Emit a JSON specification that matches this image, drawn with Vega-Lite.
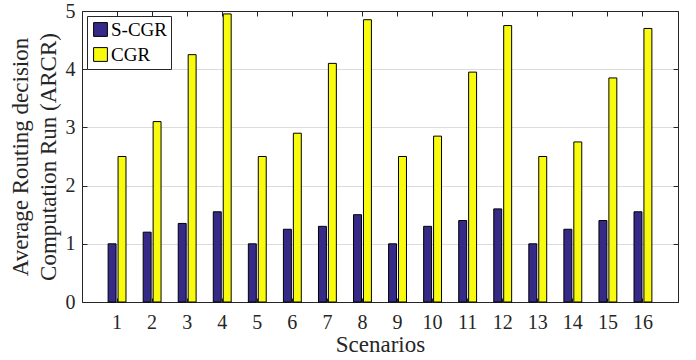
{
  "$schema": "https://vega.github.io/schema/vega-lite/v6.json",
  "width": 596,
  "height": 291,
  "autosize": "none",
  "padding": {"left": 82, "top": 11, "right": 18, "bottom": 58},
  "config": {
    "font": "Liberation Serif",
    "view": {"stroke": "#262626", "strokeWidth": 1},
    "axis": {
      "labelFont": "Liberation Serif",
      "titleFont": "Liberation Serif",
      "labelColor": "#262626",
      "titleColor": "#262626",
      "titleFontWeight": "normal",
      "domainColor": "#262626",
      "tickColor": "#262626",
      "labelFontSize": 20,
      "titleFontSize": 23
    },
    "legend": {"labelFont": "Liberation Serif"}
  },
  "data": {
    "values": [
      {"scenario": 1, "method": "S-CGR", "value": 1.0},
      {"scenario": 1, "method": "CGR", "value": 2.5},
      {"scenario": 2, "method": "S-CGR", "value": 1.2},
      {"scenario": 2, "method": "CGR", "value": 3.1},
      {"scenario": 3, "method": "S-CGR", "value": 1.35},
      {"scenario": 3, "method": "CGR", "value": 4.25},
      {"scenario": 4, "method": "S-CGR", "value": 1.55},
      {"scenario": 4, "method": "CGR", "value": 4.95},
      {"scenario": 5, "method": "S-CGR", "value": 1.0},
      {"scenario": 5, "method": "CGR", "value": 2.5},
      {"scenario": 6, "method": "S-CGR", "value": 1.25},
      {"scenario": 6, "method": "CGR", "value": 2.9},
      {"scenario": 7, "method": "S-CGR", "value": 1.3},
      {"scenario": 7, "method": "CGR", "value": 4.1},
      {"scenario": 8, "method": "S-CGR", "value": 1.5},
      {"scenario": 8, "method": "CGR", "value": 4.85},
      {"scenario": 9, "method": "S-CGR", "value": 1.0},
      {"scenario": 9, "method": "CGR", "value": 2.5},
      {"scenario": 10, "method": "S-CGR", "value": 1.3},
      {"scenario": 10, "method": "CGR", "value": 2.85},
      {"scenario": 11, "method": "S-CGR", "value": 1.4},
      {"scenario": 11, "method": "CGR", "value": 3.95},
      {"scenario": 12, "method": "S-CGR", "value": 1.6},
      {"scenario": 12, "method": "CGR", "value": 4.75},
      {"scenario": 13, "method": "S-CGR", "value": 1.0},
      {"scenario": 13, "method": "CGR", "value": 2.5},
      {"scenario": 14, "method": "S-CGR", "value": 1.25},
      {"scenario": 14, "method": "CGR", "value": 2.75},
      {"scenario": 15, "method": "S-CGR", "value": 1.4},
      {"scenario": 15, "method": "CGR", "value": 3.85},
      {"scenario": 16, "method": "S-CGR", "value": 1.55},
      {"scenario": 16, "method": "CGR", "value": 4.7}
    ]
  },
  "encoding": {
    "x": {
      "field": "scenario",
      "type": "ordinal",
      "scale": {"paddingInner": 0.49, "paddingOuter": 0.745}
    },
    "xOffset": {
      "field": "method",
      "sort": ["S-CGR", "CGR"],
      "scale": {"paddingInner": 0.2}
    },
    "y": {
      "field": "value",
      "type": "quantitative",
      "scale": {"domain": [0, 5], "nice": false}
    },
    "color": {
      "field": "method",
      "type": "nominal",
      "sort": ["S-CGR", "CGR"],
      "scale": {"domain": ["S-CGR", "CGR"], "range": ["#352A87", "#F9FB0E"]},
      "legend": {
        "title": null,
        "orient": "none",
        "legendX": 5,
        "legendY": 5,
        "direction": "vertical",
        "symbolType": "square",
        "symbolSize": 190,
        "symbolStrokeColor": "black",
        "symbolStrokeWidth": 1,
        "symbolOpacity": 1,
        "labelFont": "Liberation Serif",
        "labelFontSize": 19,
        "labelColor": "black",
        "labelOffset": 1,
        "rowPadding": 5,
        "padding": 4,
        "strokeColor": "#262626",
        "fillColor": "white",
        "symbolOffset": 0
      }
    }
  },
  "layer": [
    {
      "mark": {"type": "bar", "stroke": "black", "strokeWidth": 1, "opacity": 1},
      "encoding": {
        "x": {
          "field": "scenario",
          "type": "ordinal",
          "axis": {
            "title": "Scenarios",
            "labelAngle": 0,
            "labelFont": "Liberation Serif",
            "titleFont": "Liberation Serif",
            "tickSize": -4,
            "labelPadding": 14,
            "titlePadding": 1,
            "domainColor": "#262626"
          }
        },
        "y": {
          "field": "value",
          "type": "quantitative",
          "axis": {
            "title": ["Average Routing decision", "Computation Run (ARCR)"],
            "values": [0, 1, 2, 3, 4, 5],
            "labelFont": "Liberation Serif",
            "titleFont": "Liberation Serif",
            "grid": true,
            "gridColor": "#DCDCDC",
            "tickSize": -5,
            "labelPadding": 12,
            "titlePadding": 5,
            "titleLineHeight": 28
          }
        }
      }
    },
    {
      "mark": {"type": "bar", "opacity": 0},
      "encoding": {
        "x": {
          "field": "scenario",
          "type": "ordinal",
          "axis": {"orient": "top", "labels": false, "title": null, "tickSize": -5}
        },
        "y": {
          "field": "value",
          "type": "quantitative",
          "axis": {"orient": "right", "labels": false, "title": null, "grid": false, "tickSize": -5, "values": [0, 1, 2, 3, 4, 5]}
        }
      }
    }
  ],
  "resolve": {"axis": {"x": "independent", "y": "independent"}}
}
